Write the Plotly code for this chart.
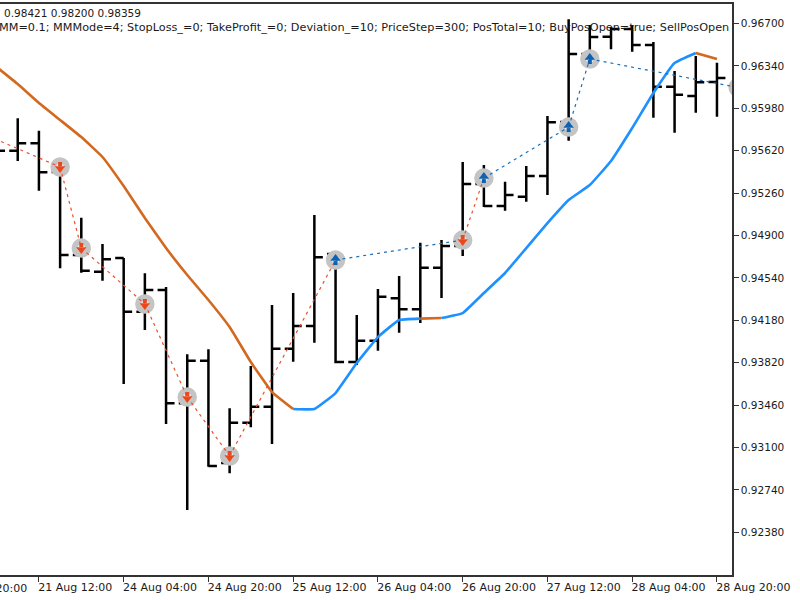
import plotly.graph_objects as go

# H4 price bars, oldest first
bar_index = list(range(35))
opens = [0.95651, 0.95620, 0.95683, 0.95439, 0.94735, 0.94593, 0.94709, 0.94253, 0.94437, 0.93476,
         0.93837, 0.92969, 0.93311, 0.93447, 0.93939, 0.94132, 0.94743, 0.93826, 0.94007, 0.94367,
         0.94274, 0.94627, 0.94811, 0.95337, 0.95151, 0.95230, 0.95405, 0.95864, 0.96441, 0.96588,
         0.96653, 0.96517, 0.96163, 0.96084, 0.96203]
highs = [0.95838, 0.95895, 0.95790, 0.95414, 0.95051, 0.94828, 0.94709, 0.94579, 0.94463, 0.93892,
         0.93934, 0.93433, 0.93792, 0.94310, 0.94412, 0.95074, 0.94743, 0.94225, 0.94446, 0.94556,
         0.94839, 0.94862, 0.95524, 0.95499, 0.95357, 0.95490, 0.95915, 0.96736, 0.96687, 0.96670,
         0.96687, 0.96543, 0.96297, 0.96424, 0.96367]
lows = [0.95414, 0.95532, 0.95280, 0.94622, 0.94584, 0.94516, 0.93639, 0.94098, 0.93300, 0.92570,
        0.92937, 0.92881, 0.93272, 0.93130, 0.93829, 0.93990, 0.93815, 0.93801, 0.93922, 0.94075,
        0.94157, 0.94369, 0.94726, 0.95142, 0.95111, 0.95187, 0.95244, 0.95705, 0.96348, 0.96481,
        0.96461, 0.95900, 0.95773, 0.95943, 0.95909]
closes = [0.95620, 0.95683, 0.95437, 0.94735, 0.94601, 0.94698, 0.94253, 0.94437, 0.93476, 0.93837,
          0.92943, 0.93311, 0.93447, 0.93939, 0.94132, 0.94715, 0.93826, 0.94007, 0.94381, 0.94274,
          0.94627, 0.94811, 0.95337, 0.95151, 0.95244, 0.95405, 0.95861, 0.96441, 0.96585, 0.96653,
          0.96517, 0.96163, 0.96096, 0.96201, 0.96237]

# Moving average and the bar ranges over which it is coloured by direction
ma_values = [0.96331, 0.96186, 0.96025, 0.95881, 0.95736, 0.95567, 0.95320, 0.95049, 0.94794, 0.94565,
             0.94353, 0.94123, 0.93826, 0.93571, 0.93427, 0.93427, 0.93563, 0.93818, 0.94038, 0.94183,
             0.94195, 0.94200, 0.94242, 0.94412, 0.94582, 0.94794, 0.95006, 0.95202, 0.95329, 0.95533,
             0.95813, 0.96110, 0.96365, 0.96450, 0.96399]
ma_runs = [(0, 14, "falling"), (14, 20, "rising"), (20, 21, "falling"), (21, 33, "rising"), (33, 34, "falling")]

# Deals: bar position, price and direction
deal_index = [-1, 3, 4, 7, 9, 11, 16, 22, 23, 27, 28, 35]
deal_price = [0.95793, 0.95482, 0.94794, 0.94319, 0.93529, 0.93028, 0.94692, 0.94862, 0.95388, 0.95821, 0.96399, 0.96157]
deal_side = ["sell", "sell", "sell", "sell", "sell", "sell", "buy", "sell", "buy", "buy", "buy", "buy"]

price_ticks = [0.967, 0.9634, 0.9598, 0.9562, 0.9526, 0.949, 0.9454, 0.9418, 0.9382, 0.9346, 0.931, 0.9274, 0.9238]
time_tick_index = [2, 6, 10, 14, 18, 22, 26, 30, 34]
time_tick_labels = ["21 Aug 12:00", "24 Aug 04:00", "24 Aug 20:00", "25 Aug 12:00", "26 Aug 04:00",
                    "26 Aug 20:00", "27 Aug 12:00", "28 Aug 04:00", "28 Aug 20:00"]
first_label_index = -2
first_label = "20 Aug 20:00"

header_prices = "0.98421 0.98200 0.98359"
header_inputs = ("MM=0.1; MMMode=4; StopLoss_=0; TakeProfit_=0; Deviation_=10; PriceStep=300; "
                 "PosTotal=10; BuyPosOpen=true; SellPosOpen")

FONT = "DejaVu Sans"
TEXT = "#1a1a1a"
FRAME = "#333333"
MA_COLORS = {"falling": "#D2691E", "rising": "#1E90FF"}
DEAL_COLORS = {"sell": "#E8502A", "buy": "#1A70B8"}
ARROW_COLORS = {"sell": "#E8481C", "buy": "#0F62B0"}
X_RANGE = [0.163, 34.71]
Y_RANGE = [0.92018, 0.96866]

fig = go.Figure()

fig.add_trace(go.Ohlc(
    x=bar_index, open=opens, high=highs, low=lows, close=closes, tickwidth=0.4,
    increasing=dict(line=dict(color="black", width=2.5)),
    decreasing=dict(line=dict(color="black", width=2.5)),
    showlegend=False, hoverinfo="skip",
))

for start, end, direction in ma_runs:
    fig.add_trace(go.Scatter(
        x=bar_index[start:end + 1], y=ma_values[start:end + 1], mode="lines",
        line=dict(color=MA_COLORS[direction], width=2.6, shape="spline", smoothing=0.3),
        showlegend=False, hoverinfo="skip",
    ))

# Grey rings sit under the dashed deal lines, the arrows on top of them
fig.add_trace(go.Scatter(
    x=deal_index, y=deal_price, mode="markers",
    marker=dict(symbol="circle", size=13.5, color="#EDEDED", line=dict(color="#C4C4C4", width=6)),
    showlegend=False, hoverinfo="skip",
))

for k in range(len(deal_index) - 1):
    fig.add_trace(go.Scatter(
        x=deal_index[k:k + 2], y=deal_price[k:k + 2], mode="lines",
        line=dict(color=DEAL_COLORS[deal_side[k]], width=1.2, dash="3px,4px"),
        showlegend=False, hoverinfo="skip",
    ))

# Each arrow is a triangular head and a short stem, pushed apart along the arrow's axis
for side, head_angle, stem_angle in (("sell", 0, 180), ("buy", 180, 0)):
    picked = [k for k, s in enumerate(deal_side) if s == side]
    xs = [deal_index[k] for k in picked]
    ys = [deal_price[k] for k in picked]
    fig.add_trace(go.Scatter(
        x=xs, y=ys, mode="markers",
        marker=dict(symbol="triangle-down", size=9, angle=head_angle, standoff=1.5,
                    color=ARROW_COLORS[side], line=dict(width=0)),
        showlegend=False, hoverinfo="skip",
    ))
    fig.add_trace(go.Scatter(
        x=xs, y=ys, mode="markers",
        marker=dict(symbol="square", size=4, angle=stem_angle, standoff=3,
                    color=ARROW_COLORS[side], line=dict(width=0)),
        showlegend=False, hoverinfo="skip",
    ))

first_label_x = (first_label_index - X_RANGE[0]) / (X_RANGE[1] - X_RANGE[0])
text_font = dict(family=FONT, size=10.5, color=TEXT)
axis_time_font = dict(family=FONT, size=11, color=TEXT)
fig.add_annotation(xref="paper", yref="paper", x=first_label_x - 2 / 732, y=-13 / 571, text=first_label,
                   showarrow=False, xanchor="left", yanchor="middle", font=axis_time_font, borderpad=0)
fig.add_annotation(xref="paper", yref="paper", x=3 / 732, y=1 - 9 / 571, text=header_prices,
                   showarrow=False, xanchor="left", yanchor="middle", font=text_font, borderpad=0)
fig.add_annotation(xref="paper", yref="paper", x=-2 / 732, y=1 - 24 / 571, text=header_inputs,
                   showarrow=False, xanchor="left", yanchor="middle",
                   font=dict(family=FONT, size=11.25, color=TEXT), borderpad=0)

fig.update_layout(
    width=800, height=600, margin=dict(l=0, r=68, t=4, b=25),
    paper_bgcolor="white", plot_bgcolor="white", showlegend=False,
    xaxis=dict(
        range=X_RANGE, rangeslider=dict(visible=False), showgrid=False, zeroline=False,
        tickmode="array", tickvals=time_tick_index, ticktext=time_tick_labels,
        ticklabelposition="outside right", ticklabelshift=-2, ticklabelstandoff=1,
        ticks="outside", ticklen=5, tickwidth=1, tickcolor=FRAME,
        showline=True, linecolor=FRAME, linewidth=1.5, mirror=True, tickfont=axis_time_font,
    ),
    yaxis=dict(
        range=Y_RANGE, side="right", showgrid=False, zeroline=False,
        tickmode="array", tickvals=price_ticks, tickformat=".5f",
        ticks="outside", ticklen=5, tickwidth=1, tickcolor=FRAME,
        showline=True, linecolor=FRAME, linewidth=1.5, tickfont=text_font,
    ),
)

fig.write_html("out.html")
